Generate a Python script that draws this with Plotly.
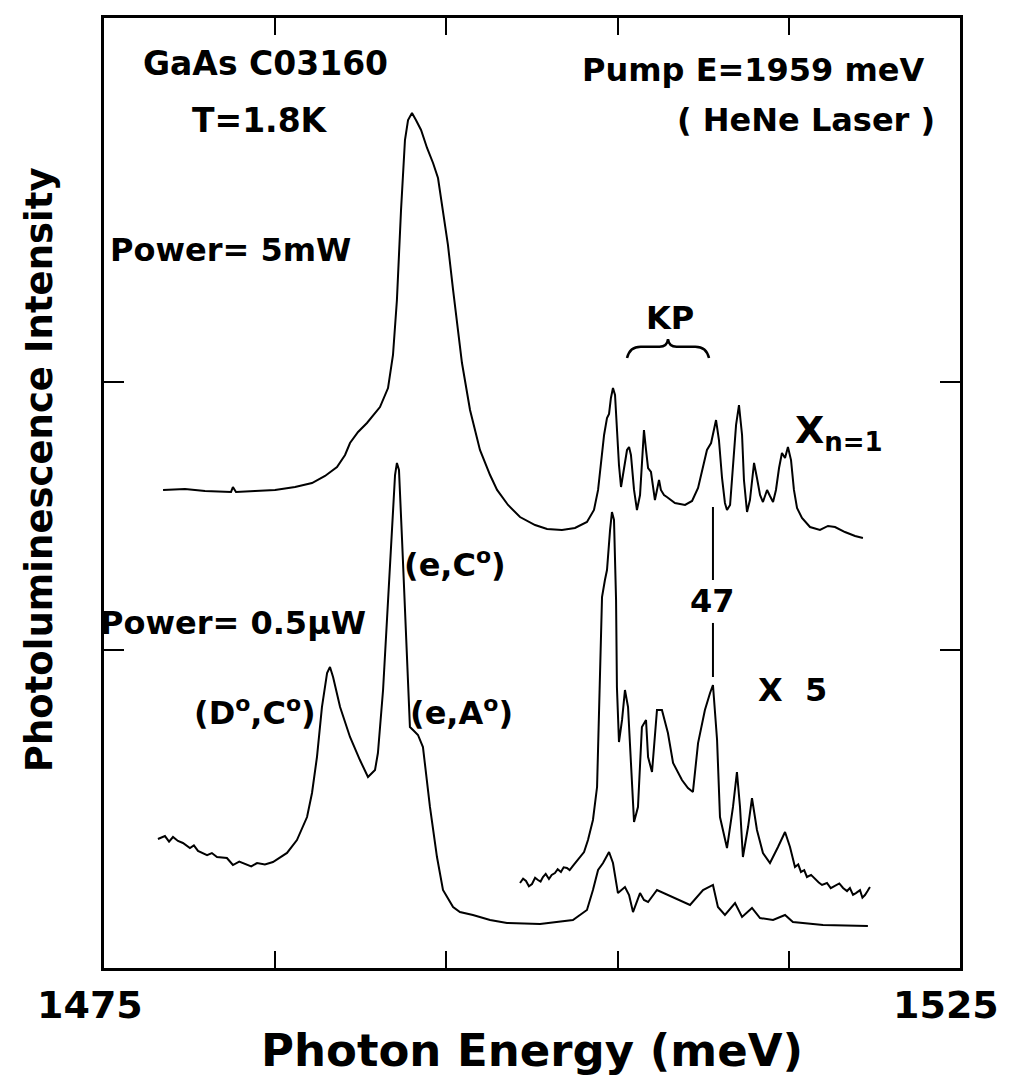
import plotly.graph_objects as go

# ---------------- data ----------------
# Photon energy in meV, intensity in arbitrary units (0..100 = frame height)
E_5mW = [1478.45, 1479.73, 1480.90, 1482.07, 1482.42, 1482.53, 1482.71, 1483.82, 1484.99, 1486.16,
         1487.15, 1487.91, 1488.61, 1489.08, 1489.37, 1489.84, 1490.36, 1491.12, 1491.59, 1491.88,
         1492.11, 1492.35, 1492.58, 1492.76, 1492.99, 1493.22, 1493.52, 1493.87, 1494.22, 1494.51,
         1494.80, 1495.09, 1495.39, 1495.68, 1495.91, 1496.38, 1496.96, 1497.55, 1497.96, 1498.60,
         1499.30, 1500.18, 1500.88, 1501.75, 1502.51, 1503.21, 1503.62, 1503.86, 1504.03, 1504.21,
         1504.38, 1504.50, 1504.61, 1504.73, 1504.85, 1504.96, 1505.08, 1505.20, 1505.37, 1505.55,
         1505.67, 1505.78, 1505.96, 1506.13, 1506.31, 1506.42, 1506.54, 1506.66, 1506.78, 1506.95,
         1507.18, 1507.30, 1507.42, 1507.53, 1507.71, 1507.88, 1508.35, 1508.94, 1509.35, 1509.70,
         1509.99, 1510.22, 1510.46, 1510.75, 1510.92, 1511.10, 1511.27, 1511.39, 1511.57, 1511.74,
         1511.92, 1512.09, 1512.27, 1512.38, 1512.56, 1512.73, 1512.85, 1512.97, 1513.14, 1513.32,
         1513.49, 1513.73, 1513.90, 1514.08, 1514.25, 1514.43, 1514.60, 1514.78, 1514.95, 1515.13,
         1515.30, 1515.48, 1515.77, 1516.24, 1516.82, 1517.29, 1517.70, 1518.28, 1518.87, 1519.33]
I_5mW = [50.32, 50.42, 50.21, 50.11, 50.11, 50.63, 50.11, 50.21, 50.32, 50.63,
         51.05, 51.79, 52.74, 54.00, 55.26, 56.42, 57.37, 59.05, 61.05, 64.53,
         70.32, 79.79, 87.16, 89.26, 90.00, 89.26, 88.21, 86.32, 84.74, 83.16,
         79.79, 76.11, 71.37, 67.16, 63.68, 58.74, 54.53, 51.89, 50.32, 48.74,
         47.47, 46.63, 46.21, 46.11, 46.32, 46.95, 48.21, 50.32, 52.95, 56.11,
         57.89, 58.32, 60.00, 61.05, 60.32, 56.63, 52.95, 50.63, 52.42, 54.53,
         54.84, 54.00, 50.32, 48.21, 49.79, 53.47, 56.63, 54.53, 52.63, 52.21,
         49.26, 50.32, 51.37, 50.32, 49.79, 49.58, 48.95, 48.74, 49.16, 50.53,
         52.63, 54.53, 55.26, 57.68, 55.58, 51.58, 48.95, 48.21, 48.74, 52.42,
         57.16, 59.26, 56.11, 51.37, 48.00, 49.26, 51.37, 53.16, 51.58, 49.79,
         49.05, 50.32, 49.68, 49.05, 50.32, 52.63, 54.21, 53.68, 54.84, 53.47,
         50.32, 48.42, 47.37, 46.42, 46.11, 46.53, 46.42, 45.89, 45.47, 45.26]

E_05uW = [1478.15, 1478.56, 1478.80, 1479.03, 1479.32, 1479.61, 1480.02, 1480.25, 1480.49, 1481.02,
          1481.30, 1481.60, 1482.18, 1482.53, 1482.90, 1483.24, 1483.60, 1483.94, 1484.40, 1484.87,
          1485.69, 1486.27, 1486.86, 1487.15, 1487.44, 1487.73, 1488.03, 1488.20, 1488.38, 1488.79,
          1489.37, 1489.95, 1490.42, 1490.83, 1491.00, 1491.30, 1491.59, 1491.82, 1492.00, 1492.11,
          1492.23, 1492.41, 1492.64, 1492.87, 1493.11, 1493.34, 1493.63, 1494.04, 1494.45, 1494.80,
          1495.39, 1495.79, 1496.55, 1497.55, 1498.54, 1500.47, 1502.39, 1503.21, 1503.56, 1503.86,
          1504.15, 1504.50, 1504.73, 1505.02, 1505.43, 1505.67, 1505.90, 1506.31, 1506.54, 1506.78,
          1507.30, 1508.24, 1509.23, 1509.99, 1510.57, 1510.86, 1511.27, 1511.86, 1512.27, 1512.85,
          1513.32, 1514.08, 1514.78, 1515.24, 1517.00, 1519.62]
I_05uW = [13.58, 13.89, 13.30, 13.79, 13.37, 13.16, 12.63, 12.90, 12.32, 11.89,
          12.10, 11.68, 11.58, 10.84, 11.20, 10.95, 10.70, 11.05, 10.90, 11.16,
          12.11, 13.47, 15.89, 18.42, 22.21, 27.47, 31.05, 31.68, 30.63, 27.47,
          24.32, 21.89, 20.11, 20.84, 22.63, 29.26, 38.74, 47.16, 51.89, 53.16,
          52.42, 45.05, 34.53, 25.37, 24.95, 24.53, 23.26, 16.95, 11.68, 8.21,
          6.42, 5.89, 5.58, 5.05, 4.74, 4.63, 5.05, 6.11, 8.21, 10.32,
          11.05, 12.21, 11.05, 7.89, 8.53, 7.68, 5.89, 7.89, 7.16, 6.95,
          8.21, 7.47, 6.63, 8.21, 8.74, 6.42, 5.58, 6.84, 5.37, 6.32,
          5.26, 5.05, 5.58, 4.84, 4.53, 4.42]

E_x5 = [1499.30, 1499.48, 1499.65, 1499.82, 1500.00, 1500.18, 1500.35, 1500.50, 1500.64, 1500.80,
        1500.99, 1501.15, 1501.34, 1501.50, 1501.69, 1501.85, 1502.04, 1502.20, 1502.39, 1502.60,
        1502.80, 1503.04, 1503.27, 1503.56, 1503.80, 1503.91, 1504.09, 1504.26, 1504.38, 1504.56,
        1504.67, 1504.79, 1504.91, 1504.96, 1505.08, 1505.26, 1505.43, 1505.61, 1505.78, 1505.96,
        1506.19, 1506.42, 1506.66, 1506.78, 1507.01, 1507.30, 1507.59, 1507.94, 1508.24, 1508.76,
        1509.11, 1509.40, 1509.70, 1510.10, 1510.40, 1510.57, 1510.81, 1510.98, 1511.39, 1511.74,
        1511.97, 1512.15, 1512.32, 1512.62, 1512.85, 1513.14, 1513.49, 1513.90, 1514.37, 1514.78,
        1515.07, 1515.36, 1515.55, 1515.71, 1515.90, 1516.06, 1516.30, 1516.53, 1516.75, 1516.94,
        1517.23, 1517.45, 1517.70, 1517.95, 1518.17, 1518.40, 1518.57, 1518.75, 1518.92, 1519.16,
        1519.30, 1519.45, 1519.60, 1519.74]
I_x5 = [8.95, 9.40, 9.16, 8.60, 8.84, 9.50, 9.26, 9.10, 9.58, 9.90,
        9.37, 9.80, 10.00, 10.40, 10.11, 10.60, 10.53, 10.30, 10.74, 11.20,
        11.68, 12.21, 13.47, 15.58, 19.05, 26.42, 39.05, 40.84, 41.89, 46.11,
        48.00, 47.16, 38.74, 29.58, 23.79, 26.11, 29.26, 27.47, 20.84, 15.37,
        16.95, 25.37, 26.11, 22.21, 20.63, 27.16, 27.16, 24.74, 21.58, 19.79,
        18.95, 18.53, 23.68, 27.16, 28.95, 29.79, 24.00, 15.89, 12.63, 16.95,
        20.63, 16.95, 11.68, 14.84, 17.89, 14.53, 12.11, 11.05, 12.74, 14.32,
        12.74, 10.63, 10.90, 10.11, 10.30, 9.58, 9.80, 9.37, 9.00, 8.74,
        8.95, 8.40, 8.63, 8.90, 8.42, 8.10, 8.42, 7.70, 7.89, 8.20,
        7.40, 7.68, 8.10, 8.53]

X_RANGE = [1475, 1525]
X_TICKS = [1485, 1495, 1505, 1515]
X_LABEL_VALUES = [1475, 1525]
X_LABELS = ["1475", "1525"]
Y_RANGE = [0, 100]
Y_TICKS = [33.5, 61.7]
MARK_47_E = 1510.57          # position of the "47" marker line
KP_LEFT_E, KP_RIGHT_E = 1505.55, 1510.34

FONT = "DejaVu Sans"
LINE = dict(color="black", width=2)

fig = go.Figure()
fig.add_trace(go.Scatter(x=E_5mW, y=I_5mW, mode="lines", line=LINE, name="5 mW"))
fig.add_trace(go.Scatter(x=E_05uW, y=I_05uW, mode="lines", line=LINE, name="0.5 uW"))
fig.add_trace(go.Scatter(x=E_x5, y=I_x5, mode="lines", line=LINE, name="0.5 uW x5"))

def txt(x, y, s, size=32, xanchor="center", xref="x", yref="y", angle=0, xshift=0):
    fig.add_annotation(x=x, y=y, xref=xref, yref=yref, text=s, showarrow=False,
                       xanchor=xanchor, yanchor="middle", textangle=angle, xshift=xshift,
                       font=dict(family=FONT, size=size, color="black", weight="bold"))

def sz(s, size):
    """wrap a plain text part so that it carries an explicit font size"""
    return f'<span style="font-size:{size}px">{s}</span>'

txt(1484.46, 95.26, "GaAs C03160", 33)
txt(1484.11, 89.26, "T=1.8K", 33)
txt(1482.36, 75.58, "Power= 5mW", 32)
txt(1512.91, 94.53, "Pump E=1959 meV", 32)
txt(1516.0, 89.26, "( HeNe Laser )", 32)
txt(1508.06, 68.42, "KP", 32)
txt(1515.25, 56.4, sz("X", 38) + "<sub>" + sz("n=1", 26) + "</sub>", 38, xanchor="left")
txt(1495.50, 42.63, sz("(e,C", 32) + "<sup>" + sz("o", 22) + "</sup>" + sz(")", 32), 32)
txt(1482.54, 36.32, "Power= 0.5µW", 32)
txt(1483.82, 26.95, sz("(D", 32) + "<sup>" + sz("o", 22) + "</sup>" + sz(",C", 32)
    + "<sup>" + sz("o", 22) + "</sup>" + sz(")", 32), 32)
txt(1495.91, 26.95, sz("(e,A", 32) + "<sup>" + sz("o", 22) + "</sup>" + sz(")", 32), 32)
txt(MARK_47_E, 38.63, "47", 32)
txt(1515.19, 29.26, "X  5", 32)

for v, s in zip(X_LABEL_VALUES, X_LABELS):
    txt(v, -0.039, s, 38, yref="paper", xshift=-14)
txt(0.5, -0.087, "Photon Energy (meV)", 45, xref="paper", yref="paper")
txt(-0.076, 0.525, "Photoluminescence Intensity", 37, xref="paper", yref="paper", angle=-90)

# "47" marker segments and KP brace
fig.add_shape(type="line", x0=MARK_47_E, x1=MARK_47_E, y0=48.53, y1=40.84, line=LINE)
fig.add_shape(type="line", x0=MARK_47_E, x1=MARK_47_E, y0=36.32, y1=30.63, line=LINE)
mid = (KP_LEFT_E + KP_RIGHT_E) / 2
brace = (f"M {KP_LEFT_E},64.2 Q {KP_LEFT_E+0.15},65.4 {KP_LEFT_E+0.8},65.4 "
         f"L {mid-0.5},65.4 Q {mid-0.05},65.4 {mid},66.2 Q {mid+0.05},65.4 {mid+0.5},65.4 "
         f"L {KP_RIGHT_E-0.8},65.4 Q {KP_RIGHT_E-0.15},65.4 {KP_RIGHT_E},64.2")
fig.add_shape(type="path", path=brace, line=dict(color="black", width=2.5))

axis_common = dict(showline=True, linewidth=3, linecolor="black", mirror="ticks",
                   ticks="inside", tickwidth=2, tickcolor="black", showgrid=False,
                   zeroline=False, showticklabels=False, fixedrange=True)
fig.update_xaxes(range=X_RANGE, tickvals=X_TICKS, ticklen=17, **axis_common)
fig.update_yaxes(range=Y_RANGE, tickvals=Y_TICKS, ticklen=20, **axis_common)

fig.update_layout(width=1012, height=1088, showlegend=False,
                  margin=dict(l=104, r=52, t=18, b=120),
                  paper_bgcolor="white", plot_bgcolor="white",
                  font=dict(family=FONT, color="black"))

fig.write_html("out.html")
